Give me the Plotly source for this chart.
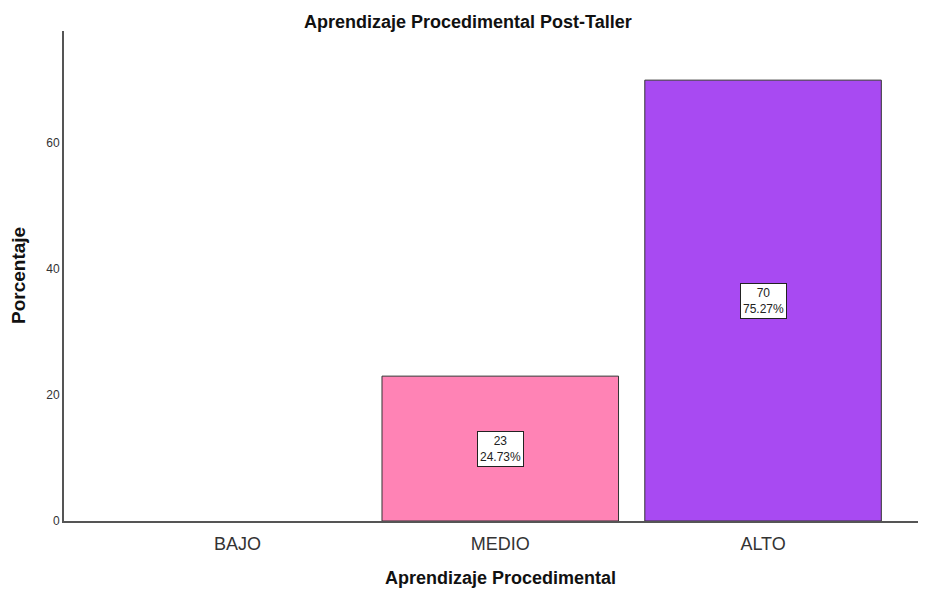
import plotly.graph_objects as go

# data
categories = ["BAJO", "MEDIO", "ALTO"]
counts = [0, 23, 70]
percents = [0.0, 24.73, 75.27]
bar_colors = ["#FF83B5", "#FF83B5", "#A84AF2"]
y_ticks = [0, 20, 40, 60]

FONT = "Liberation Sans, Arial, sans-serif"

fig = go.Figure()
fig.add_trace(go.Bar(
    x=categories,
    y=counts,
    marker=dict(color=bar_colors,
                line=dict(color="#333333", width=[0 if n == 0 else 1 for n in counts])),
    hoverinfo="skip",
))

# boxed labels in the middle of each non-empty bar
for cat, n, p in zip(categories, counts, percents):
    if n == 0:
        continue
    fig.add_annotation(
        x=cat, y=n / 2,
        text=f"{n}<br>{p:.2f}%",
        showarrow=False,
        font=dict(family=FONT, size=12, color="#222222"),
        bgcolor="white",
        bordercolor="#222222",
        borderwidth=1,
        borderpad=2,
        align="center",
    )

# axis titles placed as annotations so they stay put
fig.add_annotation(
    text="<b>Aprendizaje Procedimental</b>",
    xref="paper", yref="paper", x=0.506, y=0,
    xanchor="center", yanchor="middle", yshift=-57,
    showarrow=False, font=dict(size=18, color="#111111"),
)
fig.add_annotation(
    text="<b>Porcentaje</b>",
    xref="paper", yref="paper", x=0, y=0.5,
    xanchor="center", yanchor="middle", xshift=-46, textangle=-90,
    showarrow=False, font=dict(size=19, color="#111111"),
)

# page body has an 8px margin, so the figure is drawn a bit smaller
fig.update_layout(
    width=918, height=584,
    margin=dict(l=56, r=0, t=23, b=71),
    paper_bgcolor="white",
    plot_bgcolor="white",
    bargap=0.1,
    showlegend=False,
    font=dict(family=FONT, color="#222222"),
    title=dict(
        text="<b>Aprendizaje Procedimental Post-Taller</b>",
        x=0.501, xanchor="center", xref="container",
        y=0.976, yanchor="middle", yref="container",
        font=dict(size=18, color="#111111"),
    ),
)

fig.update_xaxes(
    range=[-0.66, 2.62], automargin=False,
    showline=True, linecolor="#555555", linewidth=2,
    showgrid=False, ticks="", ticklabelstandoff=5,
    tickfont=dict(size=18, color="#333333"),
)
fig.update_yaxes(
    range=[0, 77.8], automargin=False,
    tickvals=y_ticks,
    showline=True, linecolor="#555555", linewidth=2,
    showgrid=False, zeroline=False, ticks="",
    tickfont=dict(size=12, color="#333333"),
)

fig.write_html("out.html")
